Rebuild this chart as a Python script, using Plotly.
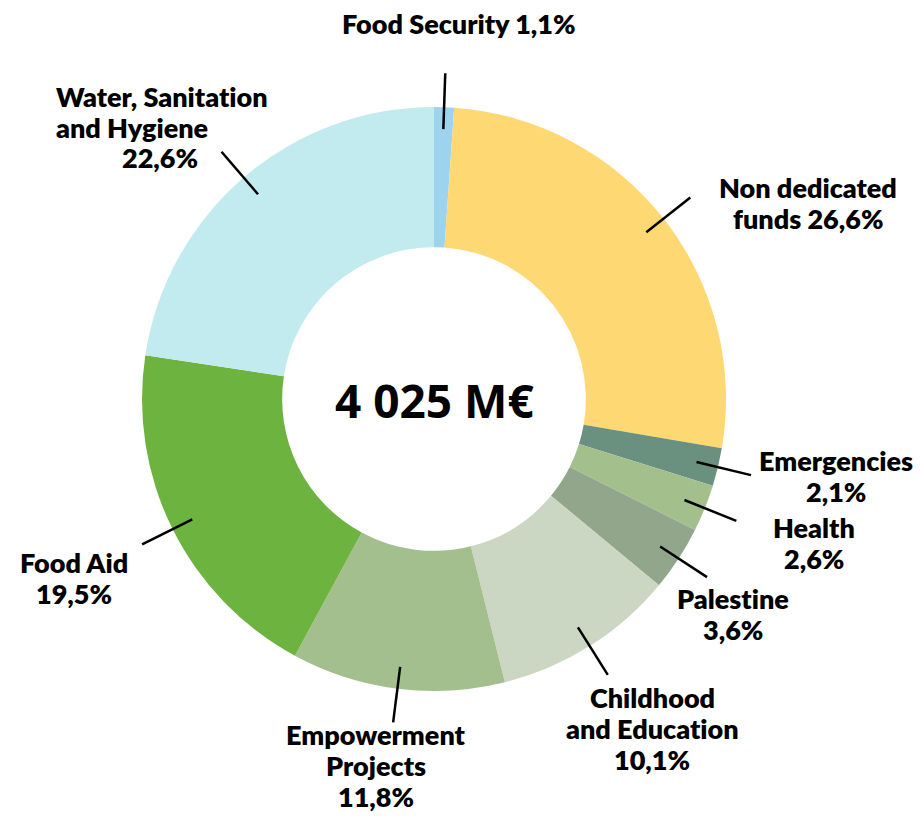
import math
import plotly.graph_objects as go

# ---- data ----
categories = ["Food Security", "Non dedicated funds", "Emergencies", "Health", "Palestine",
              "Childhood and Education", "Empowerment Projects", "Food Aid",
              "Water, Sanitation and Hygiene"]
shares = [1.1, 26.6, 2.1, 2.6, 3.6, 10.1, 11.8, 19.5, 22.6]
label_lines = [["Food Security 1,1%"], ["Non dedicated", "funds 26,6%"], ["Emergencies", "2,1%"],
               ["Health", "2,6%"], ["Palestine", "3,6%"], ["Childhood", "and Education", "10,1%"],
               ["Empowerment", "Projects", "11,8%"], ["Food Aid", "19,5%"],
               ["Water, Sanitation", "and Hygiene", "22,6%"]]
center_text = "4 025 M€"

# ---- style / layout ----
colors = ["#9DD3EE", "#FED873", "#6A9080", "#A3BF8B", "#92A68B", "#CCD7C3", "#A3BF8D",
          "#6DB33F", "#C2EBF0"]
W, H = 922, 816
CX, CY, R = 434, 399, 292
HOLE = 0.52
FONT = "Lato"
FS = 27
WEIGHT = 800
LINE_GAP = 31
# first-line centre of each label in pixels (layout)
label_pos = [(459, 23), (808, 188), (836, 460), (814, 527), (733, 598), (652, 697),
             (376, 734), (74, 562), (55, 96)]
water_pct_x = 160

def px(x, y):
    return x / W, 1 - y / H

def nolig(s):
    # avoid the "ti" ligature so the text looks like the reference
    return s.replace("ti", "t\u200ci")

fig = go.Figure()
fig.add_trace(go.Pie(
    labels=categories, values=shares, marker=dict(colors=colors, line=dict(width=0)),
    hole=HOLE, sort=False, direction="clockwise", rotation=0,
    textinfo="none", hoverinfo="label+value", showlegend=False,
    domain=dict(x=[(CX - R) / W, (CX + R) / W], y=[1 - (CY + R) / H, 1 - (CY - R) / H]),
))

shapes = []
annotations = []
total = sum(shares)
cum = 0.0
for i, v in enumerate(shares):
    mid = (cum + v / 2) / total * 2 * math.pi
    cum += v
    r0, r1 = 270, 326
    x0, y0 = CX + r0 * math.sin(mid), CY - r0 * math.cos(mid)
    x1, y1 = CX + r1 * math.sin(mid), CY - r1 * math.cos(mid)
    a, b = px(x0, y0)
    c, d = px(x1, y1)
    shapes.append(dict(type="line", xref="paper", yref="paper", x0=a, y0=b, x1=c, y1=d,
                       line=dict(color="black", width=2.5)))
    bx, by = label_pos[i]
    for j, line in enumerate(label_lines[i]):
        xa = "center"
        lxp = bx
        if i == len(shares) - 1:  # Water label: first two lines left aligned
            if j < 2:
                xa = "left"
            else:
                lxp = water_pct_x
        lx, ly = px(lxp, by + j * LINE_GAP)
        annotations.append(dict(text=nolig(line), x=lx, y=ly,
                                xref="paper", yref="paper", showarrow=False,
                                xanchor=xa, yanchor="middle", borderpad=0,
                                font=dict(family=FONT, size=FS, color="black", weight=WEIGHT)))

# centre text
lx, ly = px(CX, 400)
annotations.append(dict(text="<b>" + center_text + "</b>", x=lx, y=ly, xref="paper", yref="paper",
                        showarrow=False, xanchor="center", yanchor="middle",
                        font=dict(family="Open Sans", size=46, color="black")))

fig.update_layout(width=W, height=H, margin=dict(l=0, r=0, t=0, b=0),
                  paper_bgcolor="white", plot_bgcolor="white",
                  shapes=shapes, annotations=annotations)
fig.write_html("out.html", config={"displayModeBar": False},
               post_script="document.body.style.margin='0px';document.body.style.overflow='hidden';")
